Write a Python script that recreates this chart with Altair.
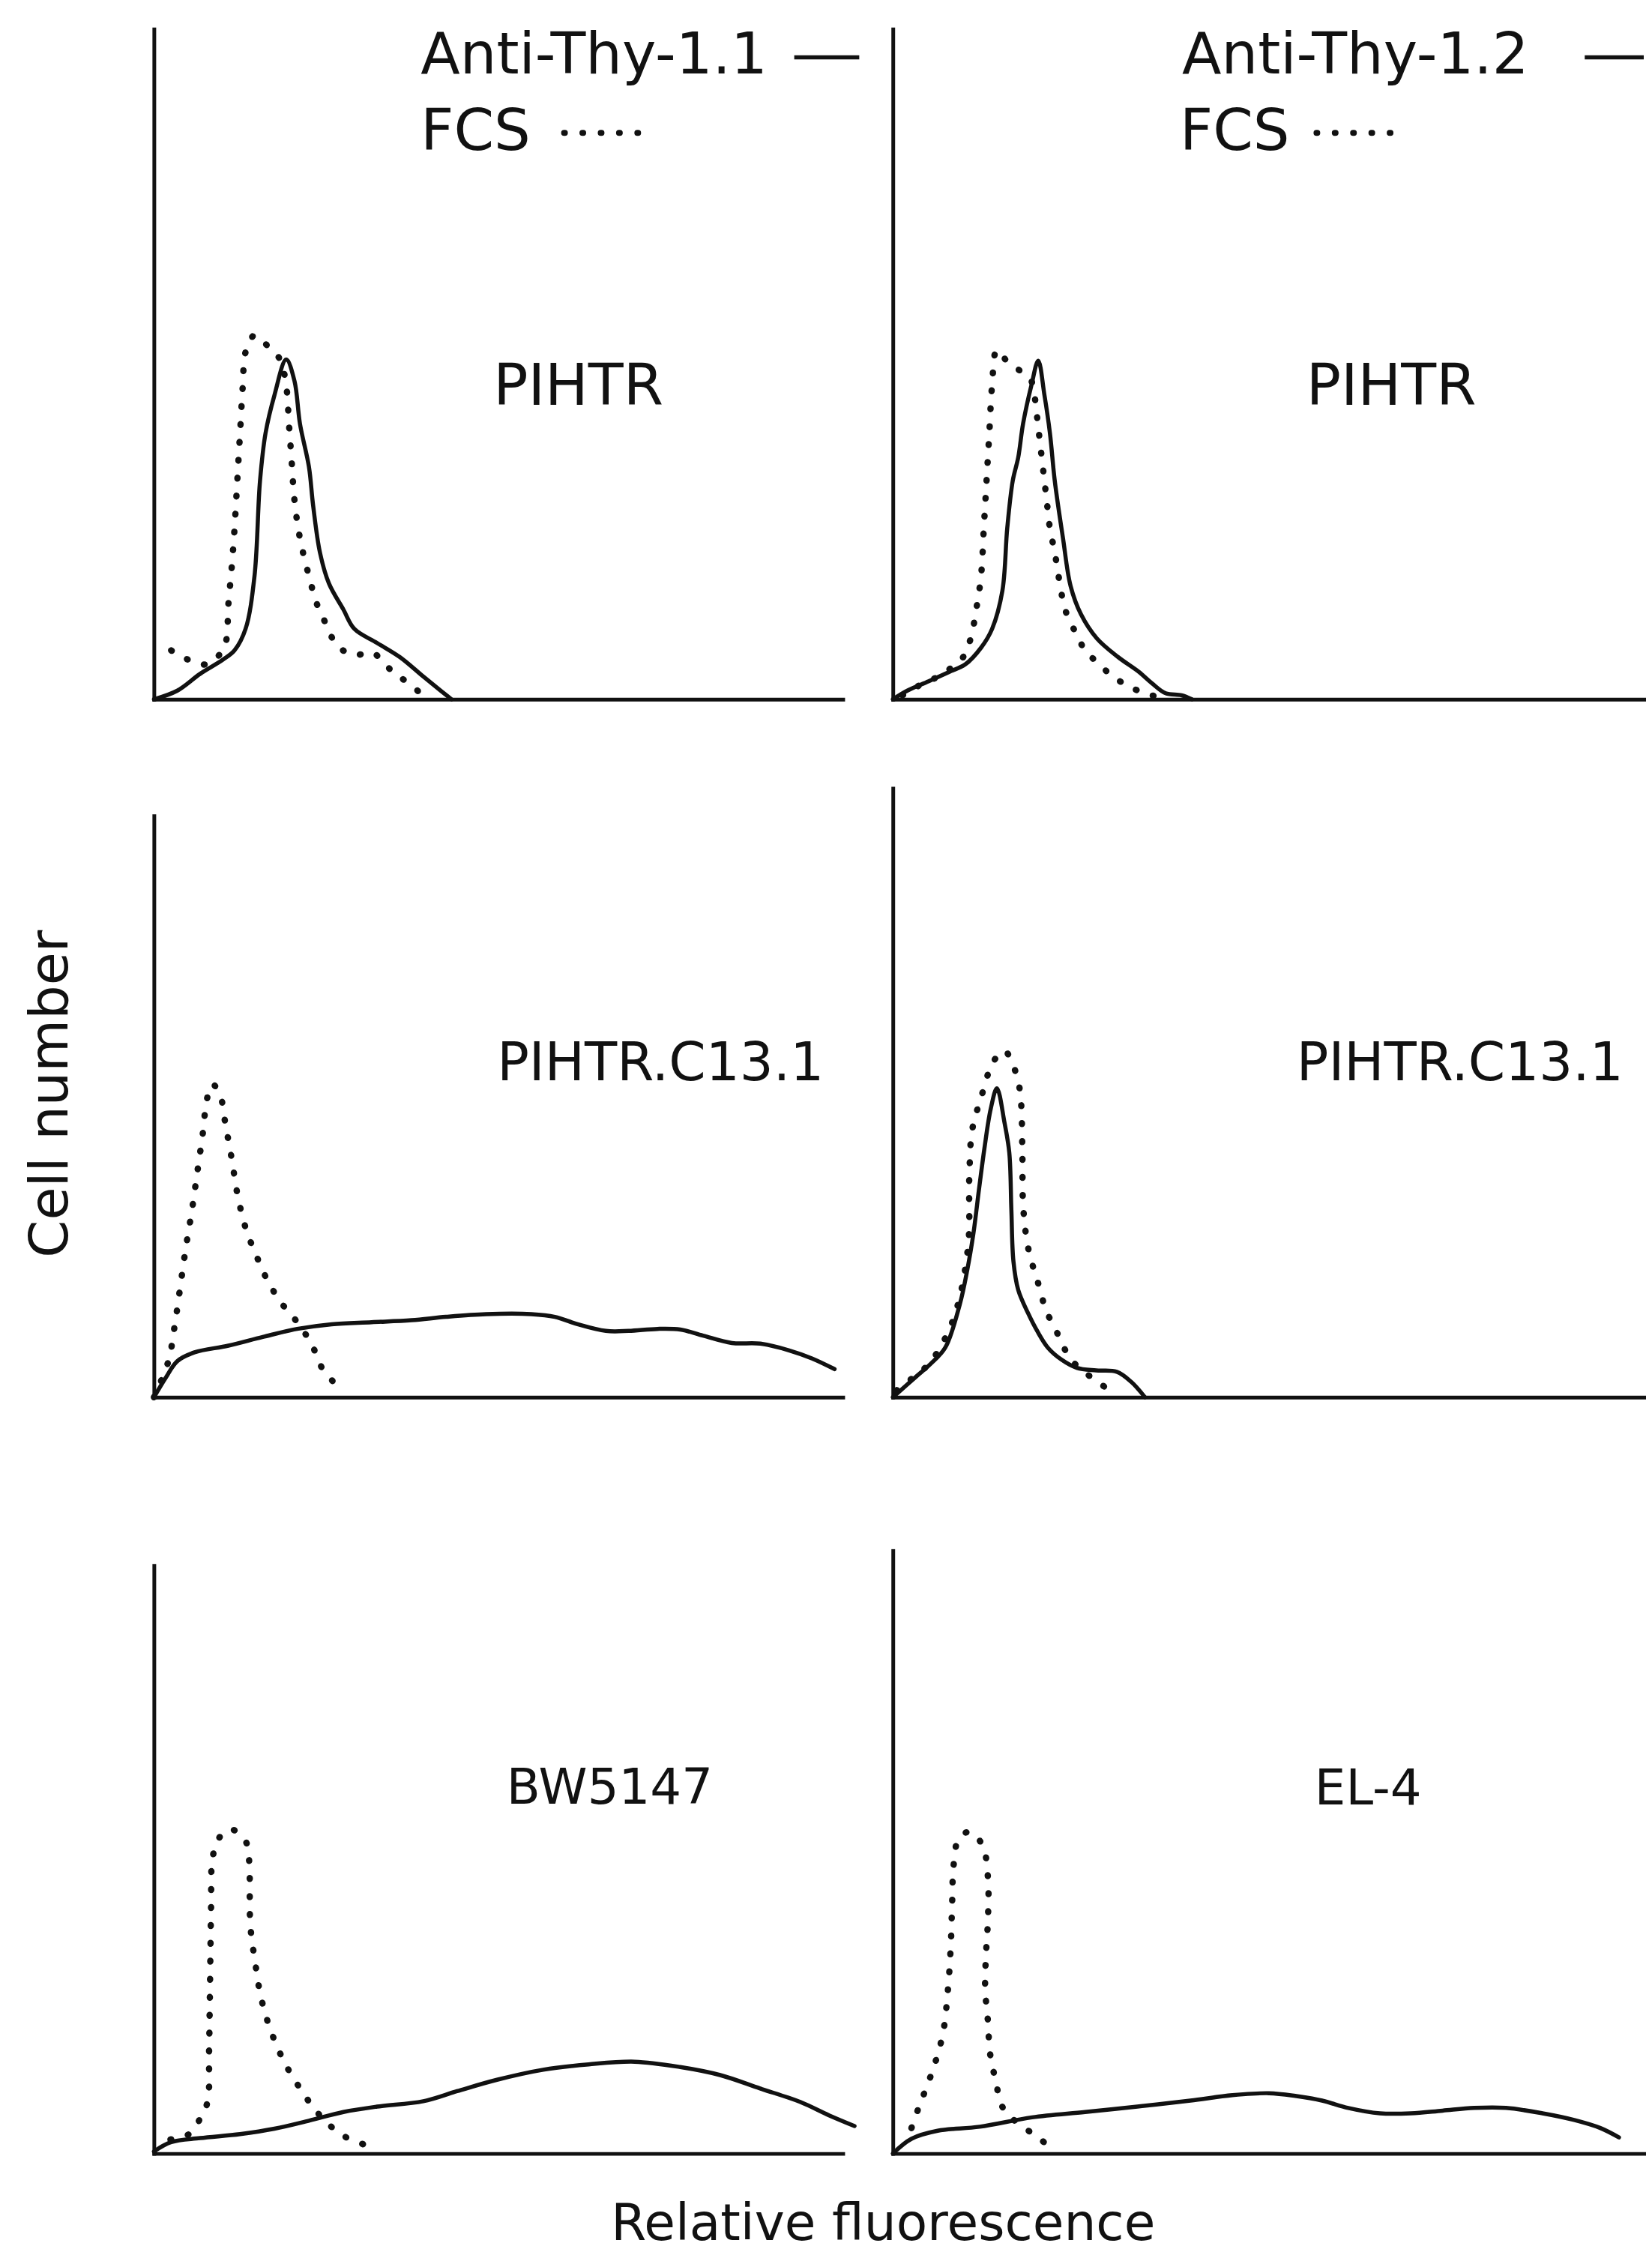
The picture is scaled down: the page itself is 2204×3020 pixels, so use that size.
import altair as alt
import pandas as pd

# ---------------- data (x: relative fluorescence units, y: cell number units) -------------
ANTIBODIES = ["Anti-Thy-1.1", "Anti-Thy-1.2"]
CONTROL = "FCS"
PANEL_NAMES = [["PIHTR", "PIHTR"], ["PIHTR.C13.1", "PIHTR.C13.1"], ["BW5147", "EL-4"]]
Y_TITLE = "Cell number"
X_TITLE = "Relative fluorescence"

# row 1 – left (anti-Thy-1.1)
L1_SOLID_X = [0, 3.4, 6.7, 10.0, 11.7, 13.3, 14.6, 15.4, 16.2, 17.5, 19.2, 20.4, 21.2, 22.5, 23.1, 24.1, 25.4, 27.5, 29.1, 32.4, 35.7, 39.1, 41.6, 43.2]
L1_SOLID_Y = [0, 1.3, 3.8, 5.9, 7.3, 10.5, 18.4, 32.6, 39.7, 45.4, 50.7, 47.5, 41.1, 34.7, 29.0, 21.9, 17.3, 13.4, 10.5, 8.4, 6.3, 3.4, 1.3, 0]
L1_DOT_X = [2.5, 5.0, 7.5, 9.2, 10.4, 10.8, 11.3, 11.7, 12.1, 12.5, 12.9, 13.3, 14.6, 16.7, 18.3, 19.2, 19.6, 20.0, 20.4, 21.2, 22.5, 23.7, 25.0, 26.6, 29.1, 31.6, 33.3, 34.9, 36.6, 38.7]
L1_DOT_Y = [7.3, 5.9, 5.2, 6.3, 8.4, 14.1, 19.8, 25.5, 32.6, 39.7, 46.8, 51.8, 54.3, 52.5, 50.7, 46.8, 41.1, 35.4, 29.7, 24.0, 18.4, 14.1, 11.2, 8.0, 6.6, 7.0, 5.6, 3.8, 2.7, 0.9]

# row 1 – right (anti-Thy-1.2)
R1_SOLID_X = [0, 2.1, 5.2, 8.2, 10.5, 12.8, 14.4, 15.9, 16.6, 17.4, 18.2, 18.9, 20.1, 21.1, 22.0, 22.8, 23.5, 24.7, 25.8, 27.3, 29.6, 32.7, 35.7, 37.6, 39.6, 41.9, 43.4]
R1_SOLID_Y = [0, 1.3, 2.7, 4.1, 5.2, 7.7, 10.5, 16.2, 25.5, 32.6, 36.1, 41.1, 46.8, 50.5, 45.4, 39.7, 32.6, 24.0, 16.9, 12.7, 9.1, 6.3, 4.1, 2.4, 0.9, 0.6, 0]
R1_DOT_X = [1.4, 3.7, 6.0, 8.2, 10.2, 11.3, 12.1, 12.8, 13.2, 13.6, 14.0, 14.4, 15.1, 16.6, 18.6, 20.1, 20.8, 21.2, 22.0, 22.4, 22.8, 23.5, 24.3, 25.0, 26.6, 28.1, 29.6, 31.9, 34.2, 36.5, 38.8]
R1_DOT_Y = [0.6, 2.0, 3.1, 4.5, 6.3, 9.1, 13.4, 18.4, 25.5, 32.6, 39.7, 46.8, 52.1, 50.4, 48.9, 47.5, 43.2, 39.7, 32.6, 29.0, 25.5, 21.9, 16.9, 13.4, 9.8, 7.0, 5.6, 3.4, 2.0, 0.9, 0.3]

# row 2
L2_SOLID_X = [0, 1.7, 3.4, 5.9, 10.8, 15.8, 20.8, 25.8, 31.6, 37.4, 42.4, 48.2, 54.8, 58.2, 61.5, 65.6, 68.9, 73.1, 76.4, 79.7, 83.9, 88.0, 92.2, 95.5, 98.8]
L2_SOLID_Y = [0, 2.9, 5.4, 6.7, 7.7, 9.0, 10.2, 10.9, 11.2, 11.5, 12.0, 12.4, 12.4, 12.0, 10.9, 9.9, 9.9, 10.2, 10.1, 9.2, 8.1, 8.0, 7.0, 5.8, 4.2]
L2_DOT_X = [0, 2.1, 3.0, 3.8, 4.6, 5.5, 6.3, 7.1, 7.7, 8.5, 9.6, 10.4, 11.3, 12.1, 13.3, 15.0, 16.7, 18.7, 20.8, 22.9, 24.5, 27.0]
L2_DOT_Y = [0, 5.4, 10.6, 16.3, 22.1, 27.8, 33.6, 39.4, 44.5, 46.7, 45.1, 40.6, 35.5, 30.4, 25.3, 20.8, 17.0, 13.8, 11.2, 7.9, 4.2, 1.3]
R2_SOLID_X = [0, 3.4, 5.5, 7.6, 9.7, 10.8, 11.7, 12.5, 13.3, 14.2, 15.1, 16.2, 16.9, 17.2, 17.5, 18.2, 19.6, 21.0, 22.5, 24.5, 26.7, 29.5, 32.5, 34.6, 36.6]
R2_SOLID_Y = [0, 3.1, 5.0, 7.4, 13.8, 19.0, 24.5, 31.0, 37.2, 43.0, 46.1, 41.0, 36.5, 28.0, 20.3, 16.0, 12.6, 9.8, 7.4, 5.6, 4.4, 4.0, 3.8, 2.3, 0]
R2_DOT_X = [0.5, 3.0, 5.5, 8.8, 10.9, 11.1, 11.5, 12.8, 14.6, 16.2, 17.3, 18.2, 18.6, 18.8, 18.9, 19.4, 20.0, 20.9, 22.3, 23.5, 24.6, 25.8, 27.5, 29.2, 31.2]
R2_DOT_Y = [1.0, 3.0, 5.3, 11.7, 22.3, 33.0, 39.8, 44.7, 50.1, 51.7, 49.9, 47.1, 44.1, 36.5, 28.8, 23.7, 20.7, 17.7, 12.8, 10.4, 7.9, 5.7, 4.0, 2.7, 1.2]

# row 3
L3_SOLID_X = [0, 2.5, 6.7, 12.5, 17.5, 22.5, 27.5, 32.4, 39.1, 44.0, 49.8, 56.5, 63.1, 69.8, 76.4, 82.2, 88.0, 93.8, 98.0, 101.7]
L3_SOLID_Y = [0.3, 1.7, 2.3, 2.9, 3.7, 4.9, 6.2, 7.0, 7.8, 9.3, 11.0, 12.5, 13.3, 13.7, 12.9, 11.7, 9.7, 7.7, 5.7, 4.1]
L3_DOT_X = [2.4, 5.1, 6.8, 7.8, 8.0, 8.1, 8.2, 8.3, 8.5, 9.4, 11.1, 13.3, 13.8, 14.0, 14.7, 15.5, 16.9, 19.1, 21.8, 23.2, 24.9, 26.6, 28.5, 31.9]
L3_DOT_Y = [2.1, 2.9, 5.4, 7.8, 15.0, 22.0, 30.0, 37.0, 44.0, 47.0, 48.4, 46.6, 43.9, 34.0, 28.5, 23.5, 18.5, 13.3, 8.8, 6.8, 4.8, 3.3, 2.1, 0.9]
R3_SOLID_X = [0, 2.7, 6.5, 12.6, 20.2, 27.9, 35.5, 43.2, 49.3, 54.6, 58.4, 62.3, 66.1, 70.7, 75.2, 79.8, 84.4, 89.0, 94.3, 98.9, 102.7, 105.4]
R3_SOLID_Y = [0, 2.2, 3.4, 4.0, 5.4, 6.2, 7.0, 7.9, 8.7, 9.0, 8.6, 7.9, 6.8, 6.0, 6.0, 6.4, 6.8, 6.8, 6.0, 5.0, 3.8, 2.4]
R3_DOT_X = [2.7, 3.8, 5.0, 6.1, 7.3, 8.0, 8.4, 8.6, 8.8, 9.5, 11.1, 13.0, 13.8, 13.8, 13.5, 13.4, 13.8, 14.1, 14.9, 16.1, 20.2, 22.5]
R3_DOT_Y = [3.8, 7.0, 10.2, 13.4, 18.1, 24.5, 30.9, 37.2, 42.8, 46.8, 48.0, 46.0, 41.2, 34.9, 29.3, 24.5, 19.7, 15.0, 11.0, 6.6, 3.0, 1.3]

# ---------------- styling / layout ---------------------------------------------------------
FONT = "DejaVu Sans"
INK = "#111111"
X_UNIT = 9.22   # px per x unit
Y_UNIT = 8.97   # px per y unit
W_LEFT, W_RIGHT = 922, 1005
ROW_H = [897, 815, 893]
TOP_OFF = [[0, 0], [37, 0], [106, 86]]   # where each y axis starts inside its panel
DOTS = [1, 23]


def axis():
    return alt.Axis(title=None, labels=False, ticks=False, grid=False, domain=True,
                    domainColor=INK, domainWidth=5, domainCap="square")


def curve(xs, ys, dotted, xs_scale, ys_scale):
    df = pd.DataFrame({"x": xs, "y": ys, "i": list(range(len(xs)))})
    if dotted:
        m = alt.Chart(df).mark_line(color=INK, strokeWidth=8.5, strokeDash=DOTS,
                                    strokeCap="round", interpolate="catmull-rom")
    else:
        m = alt.Chart(df).mark_line(color=INK, strokeWidth=5.5, strokeCap="round",
                                    strokeJoin="round", interpolate="catmull-rom")
    return m.encode(
        x=alt.X("x:Q", scale=xs_scale, axis=axis()),
        y=alt.Y("y:Q", scale=ys_scale, axis=axis()),
        order=alt.Order("i:Q"),
    )


def label(text, x, y, size, align="center", angle=0):
    df = pd.DataFrame({"t": [text]})
    return alt.Chart(df).mark_text(font=FONT, fontSize=size, color=INK, align=align,
                                   baseline="alphabetic", angle=angle).encode(
        x=alt.value(x), y=alt.value(y), text="t:N")


def sample(x1, x2, y, dotted):
    df = pd.DataFrame({"k": [0]})
    if dotted:
        m = alt.Chart(df).mark_rule(color=INK, strokeWidth=8, strokeDash=[1, 23.5], strokeCap="round")
    else:
        m = alt.Chart(df).mark_rule(color=INK, strokeWidth=5.5)
    return m.encode(x=alt.value(x1), x2=alt.value(x2), y=alt.value(y))


def panel(col, row, sx, sy, dx, dy, extras):
    w = W_LEFT if col == 0 else W_RIGHT
    h = ROW_H[row]
    top = TOP_OFF[row][col]
    xsc = alt.Scale(domain=[0, w / X_UNIT], nice=False, zero=False)
    ysc = alt.Scale(domain=[0, (h - top) / Y_UNIT], range=[h, top], nice=False, zero=False)
    layers = [curve(sx, sy, False, xsc, ysc), curve(dx, dy, True, xsc, ysc)] + extras
    return alt.layer(*layers).properties(width=w, height=h)


p11 = panel(0, 0, L1_SOLID_X, L1_SOLID_Y, L1_DOT_X, L1_DOT_Y, [
    label(ANTIBODIES[0], 357, 59, 77, align="left"),
    sample(857, 944, 38, False),
    label(CONTROL, 357, 162, 77, align="left"),
    sample(549, 648, 139, True),
    label(PANEL_NAMES[0][0], 568, 503, 77),
])
p12 = panel(1, 0, R1_SOLID_X, R1_SOLID_Y, R1_DOT_X, R1_DOT_Y, [
    label(ANTIBODIES[1], 387, 59, 77, align="left"),
    sample(926, 1005, 38, False),
    label(CONTROL, 384, 162, 77, align="left"),
    sample(567, 666, 139, True),
    label(PANEL_NAMES[0][1], 667, 503, 77),
])
p21 = panel(0, 1, L2_SOLID_X, L2_SOLID_Y, L2_DOT_X, L2_DOT_Y, [
    label(PANEL_NAMES[1][0], 678, 391, 71),
    label(Y_TITLE, -116, 409, 72, angle=270),
])
p22 = panel(1, 1, R2_SOLID_X, R2_SOLID_Y, R2_DOT_X, R2_DOT_Y, [
    label(PANEL_NAMES[1][1], 759, 391, 71),
])
p31 = panel(0, 2, L3_SOLID_X, L3_SOLID_Y, L3_DOT_X, L3_DOT_Y, [
    label(PANEL_NAMES[2][0], 610, 425, 66),
    label(X_TITLE, 976, 1009, 68),
])
p32 = panel(1, 2, R3_SOLID_X, R3_SOLID_Y, R3_DOT_X, R3_DOT_Y, [
    label(PANEL_NAMES[2][1], 636, 426, 66),
])

chart = alt.concat(
    p11, p12, p21, p22, p31, p32,
    columns=2, align="each", bounds="flush",
    spacing={"row": 119, "column": 67},
).properties(
    padding={"left": 24, "top": 23, "right": 0, "bottom": 0},
    background="white",
).configure_view(strokeWidth=0)

chart.save("out.html", embed_options={"renderer": "svg", "actions": False})
